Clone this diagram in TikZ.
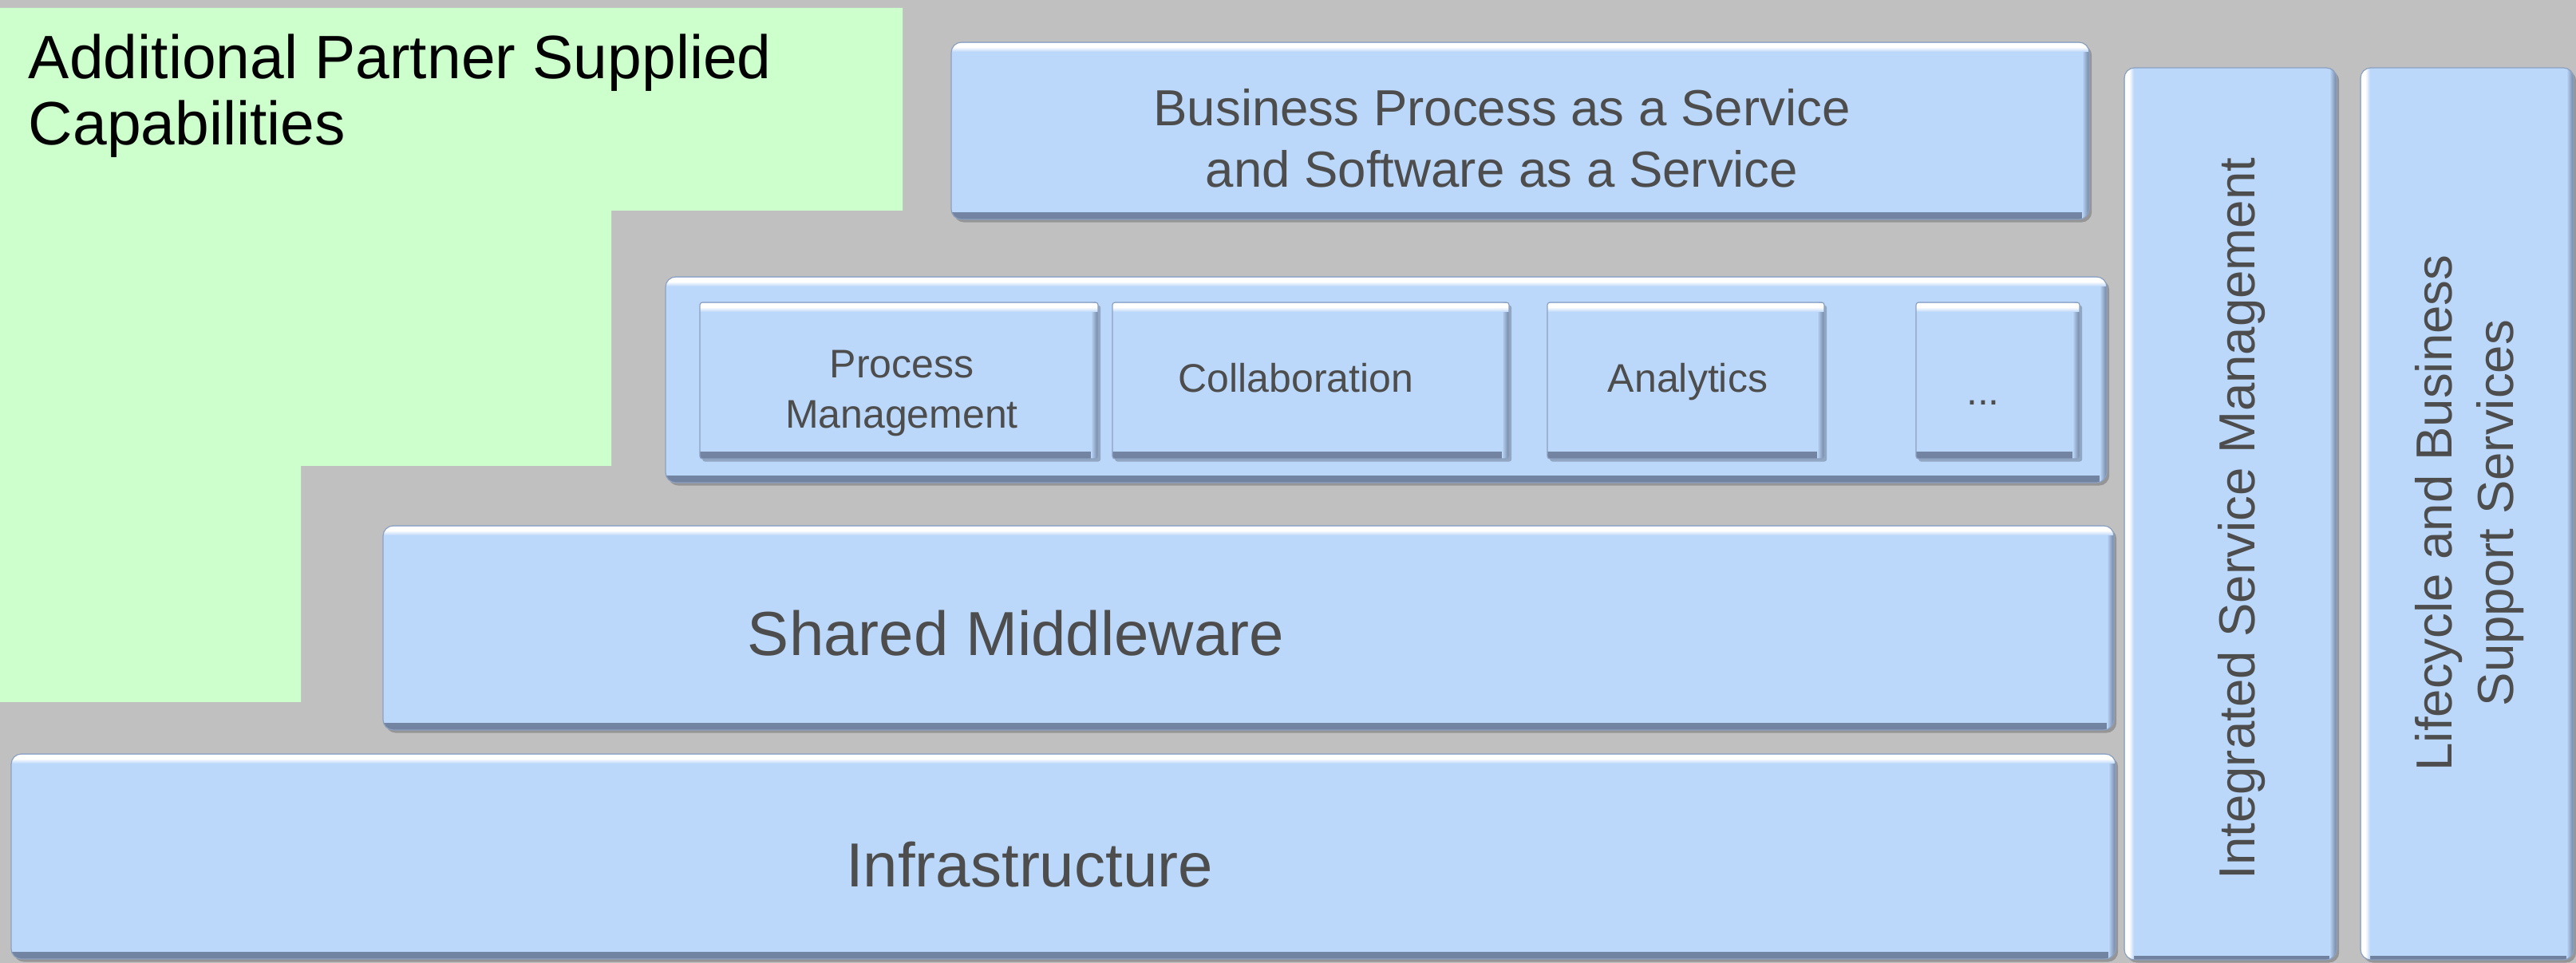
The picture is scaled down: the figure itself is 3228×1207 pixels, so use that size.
\documentclass[tikz,border=0pt]{standalone}
\usepackage{fontspec}
\setmainfont{Liberation Sans}
\usetikzlibrary{shadows}
\definecolor{bgrey}{RGB}{192,192,192}
\definecolor{pgreen}{RGB}{204,255,204}
\definecolor{boxblue}{RGB}{187,215,249}
\definecolor{boxdark}{RGB}{112,130,160}
\definecolor{boxedge}{RGB}{140,160,192}
\definecolor{txtgrey}{RGB}{77,77,77}
\newcommand\lyrbox[6]{\node[#6, minimum width={(#4-#2)*0.25pt}, minimum height={(#5-#3)*0.25pt}] (#1) at ({(#2+#4)/2},{(#3+#5)/2}) {};}
\tikzset{
  layerbox/.style={draw=boxedge, line width=0.3pt, fill=boxblue, inner sep=0pt, outer sep=0pt,
    rounded corners=#1,
    drop shadow={shadow xshift=0.8pt, shadow yshift=-0.9pt, fill=black, opacity=0.22}},
  layerbox/.default=3.2pt,
  hbevel/.style={path picture={
    \shade[sharp corners, top color=boxblue, bottom color=boxdark]
      ([yshift=2pt]path picture bounding box.south west) rectangle (path picture bounding box.south east);
    \shade[sharp corners, left color=boxblue, right color=boxdark]
      ([xshift=-2.2pt]path picture bounding box.north east) rectangle (path picture bounding box.south east);
    \fill[sharp corners, white] ([yshift=-0.35pt]path picture bounding box.north west) rectangle ([yshift=-1.5pt]path picture bounding box.north east);
    \shade[sharp corners, top color=white, bottom color=boxblue]
      ([yshift=-1.5pt]path picture bounding box.north west) rectangle ([yshift=-3.0pt]path picture bounding box.north east);
  }},
  vbevel/.style={path picture={
    \shade[sharp corners, top color=boxblue, bottom color=boxdark]
      ([yshift=1.2pt]path picture bounding box.south west) rectangle (path picture bounding box.south east);
    \shade[sharp corners, left color=boxblue, right color=boxdark]
      ([xshift=-2.2pt]path picture bounding box.north east) rectangle (path picture bounding box.south east);
    \fill[sharp corners, white] ([xshift=0.35pt]path picture bounding box.north west) rectangle ([xshift=1.5pt]path picture bounding box.south west);
    \shade[sharp corners, left color=white, right color=boxblue]
      ([xshift=1.5pt]path picture bounding box.north west) rectangle ([xshift=3.0pt]path picture bounding box.south west);
  }},
  lbl/.style={inner sep=0pt, outer sep=0pt, text=txtgrey, align=center},
  bigfont/.style={font=\fontsize{19.5}{23}\selectfont},
  midfont/.style={font=\fontsize{15.9}{19.25}\selectfont},
  smallfont/.style={font=\fontsize{12.5}{15.75}\selectfont},
}
\begin{document}
\begin{tikzpicture}[x=0.25pt,y=-0.25pt]
\fill[bgrey] (0,0) rectangle (3228,1207);
\useasboundingbox (0,0) rectangle (3228,1207);

% partner area
\fill[pgreen] (0,10) -- (1131,10) -- (1131,264) -- (766,264) -- (766,584) -- (377,584) -- (377,880) -- (0,880) -- cycle;
\node[inner sep=0pt, outer sep=0pt, align=left, anchor=base west, font=\fontsize{19.2}{20.75}\selectfont, text=black]
  (partner) at (36,182) {Additional Partner Supplied\\Capabilities};

% layer boxes
\lyrbox{bpaas}{1192}{53}{2618}{275}{layerbox, hbevel}
\lyrbox{caps}{834}{347}{2640}{605}{layerbox, hbevel}
\lyrbox{pm}{877}{379}{1376}{575}{layerbox=0.8pt, hbevel}
\lyrbox{collab}{1394}{379}{1891}{575}{layerbox=0.8pt, hbevel}
\lyrbox{analytics}{1939}{379}{2286}{575}{layerbox=0.8pt, hbevel}
\lyrbox{more}{2401}{379}{2606}{575}{layerbox=0.8pt, hbevel}
\lyrbox{mw}{480}{659}{2649}{915}{layerbox, hbevel}
\lyrbox{infra}{14}{945}{2651}{1202}{layerbox, hbevel}
\lyrbox{ism}{2662}{85}{2928}{1203}{layerbox, vbevel}
\lyrbox{lbss}{2958}{85}{3225}{1203}{layerbox, vbevel}

% labels
\node[lbl, midfont, anchor=base] (tbpaas) at (1882,235) {Business Process as a Service\\and Software as a Service};
\node[lbl, smallfont, anchor=base] (tpm) at (1130,537) {Process\\Management};
\node[lbl, smallfont, anchor=base] (tcollab) at (1624,492) {Collaboration};
\node[lbl, smallfont, anchor=base] (tanalytics) at (2115,492) {Analytics};
\node[lbl, smallfont, anchor=base] (tmore) at (2485,508) {...};
\node[lbl, bigfont, anchor=base] (tmw) at (1273,822) {Shared Middleware};
\node[lbl, bigfont, anchor=base] (tinfra) at (1290,1112) {Infrastructure};
\node[lbl, midfont, anchor=base, rotate=90] (tism) at (2825,650) {Integrated Service Management};
\node[lbl, midfont, anchor=base, rotate=90] (tlbss) at (3149,643) {Lifecycle and Business\\Support Services};
\end{tikzpicture}
\end{document}
